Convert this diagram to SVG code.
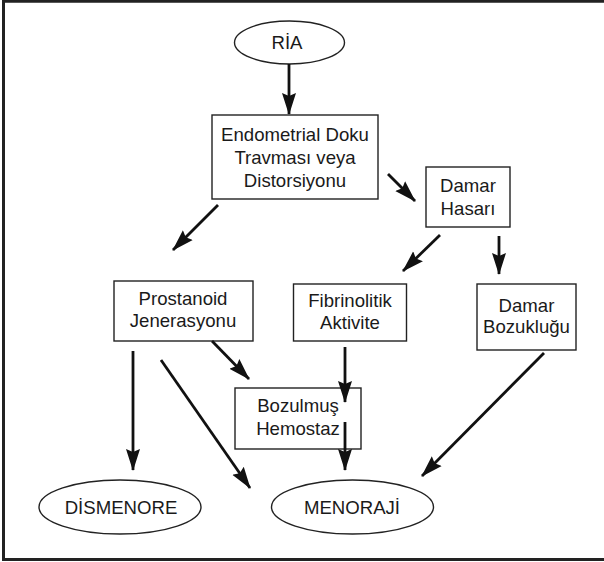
<svg xmlns="http://www.w3.org/2000/svg" width="604" height="562" viewBox="0 0 604 562">
<style>
.box{fill:#fff;stroke:#222;stroke-width:1.4}
.t{font-family:"Liberation Sans",Arial,Helvetica,sans-serif;font-size:18.6px;fill:#1a1a1a;text-anchor:middle}
.c{stroke:#111;stroke-width:2.8;fill:none;marker-end:url(#ah)}
</style>
<defs>
<marker id="ah" markerUnits="userSpaceOnUse" markerWidth="24" markerHeight="16" refX="21" refY="8" orient="auto">
<path d="M0,1 L22,8 L0,15 L3,8 z" fill="#111"/>
</marker>
</defs>
<rect width="604" height="562" fill="#fff"/>
<path d="M620,1.2 H3.5 V559.5 H620" fill="none" stroke="#222" stroke-width="3"/>

<g id="ria">
<ellipse class="box" cx="289.5" cy="42.5" rx="55" ry="21.5"/>
<text class="t" x="287" y="49">RİA</text>
</g>

<g id="endometrial">
<rect class="box" x="212" y="115" width="166" height="84"/>
<text class="t" x="295" y="141">Endometrial Doku</text>
<text class="t" x="295" y="164">Travması veya</text>
<text class="t" x="295" y="187">Distorsiyonu</text>
</g>

<g id="damar-hasari">
<rect class="box" x="426" y="167" width="84" height="60"/>
<text class="t" x="468" y="192">Damar</text>
<text class="t" x="468" y="215">Hasarı</text>
</g>

<g id="prostanoid">
<rect class="box" x="114" y="281" width="139" height="60"/>
<text class="t" x="183" y="305">Prostanoid</text>
<text class="t" x="183" y="327">Jenerasyonu</text>
</g>

<g id="fibrinolitik">
<rect class="box" x="293.5" y="284" width="113" height="57"/>
<text class="t" x="350" y="307">Fibrinolitik</text>
<text class="t" x="350" y="328.5">Aktivite</text>
</g>

<g id="damar-bozuklugu">
<rect class="box" x="477" y="284" width="99" height="66"/>
<text class="t" x="526.5" y="312">Damar</text>
<text class="t" x="526.5" y="333">Bozukluğu</text>
</g>

<g id="bozulmus-hemostaz">
<rect class="box" x="235" y="388" width="126" height="61"/>
<text class="t" x="298" y="411.5">Bozulmuş</text>
<text class="t" x="298" y="435">Hemostaz</text>
</g>

<g id="dismenore">
<ellipse class="box" cx="120" cy="507" rx="81" ry="27"/>
<text class="t" x="121" y="513.5">DİSMENORE</text>
</g>

<g id="menoraji">
<ellipse class="box" cx="352.5" cy="507" rx="81" ry="27"/>
<text class="t" x="352" y="513.5">MENORAJİ</text>
</g>

<g id="connectors">
<line class="c" x1="289" y1="64" x2="289" y2="114"/>
<line class="c" x1="388" y1="174" x2="415" y2="201"/>
<line class="c" x1="218" y1="205" x2="173" y2="250"/>
<line class="c" x1="440" y1="235" x2="403" y2="271"/>
<line class="c" x1="499" y1="236" x2="499" y2="274"/>
<line class="c" x1="212" y1="341" x2="249" y2="379"/>
<line class="c" x1="345" y1="347" x2="345" y2="402"/>
<line class="c" x1="345" y1="422" x2="345" y2="470"/>
<line class="c" x1="133" y1="351" x2="133" y2="470"/>
<line class="c" x1="161" y1="360" x2="250" y2="488"/>
<line class="c" x1="544" y1="353" x2="422" y2="476"/>
</g>
</svg>
